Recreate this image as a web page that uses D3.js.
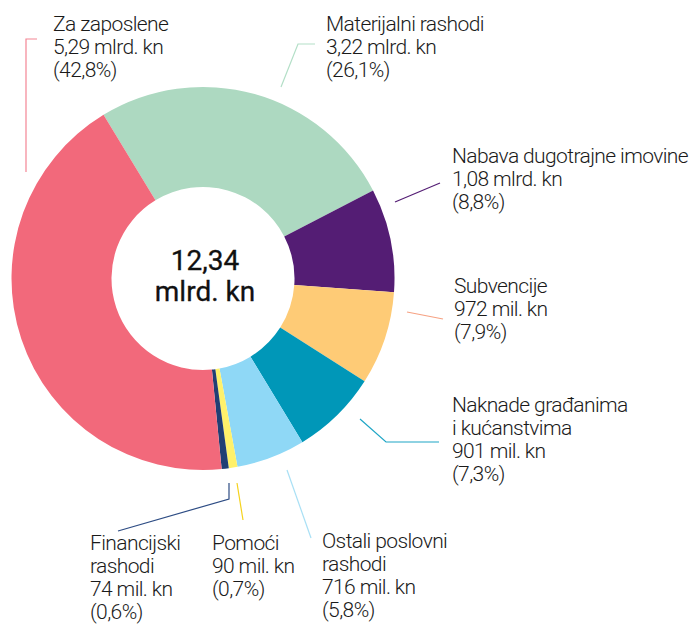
<!DOCTYPE html>
<html>
<head>
<meta charset="utf-8">
<script src="https://cdn.jsdelivr.net/npm/d3@7"></script>
<style>
body{margin:0;background:#fff;}
text{font-family:Roboto,"Noto Sans",sans-serif;}
</style>
</head>
<body>
<div id="main_div"></div>
<script>
// data, clockwise from the top-left edge of "Materijalni rashodi"
let categories=["Materijalni rashodi","Nabava dugotrajne imovine","Subvencije","Naknade građanima i kućanstvima","Ostali poslovni rashodi","Pomoći","Financijski rashodi","Za zaposlene"];
let values=[3220,1080,972,901,716,90,74,5290];
let valueLabels=["3,22 mlrd. kn","1,08 mlrd. kn","972 mil. kn","901 mil. kn","716 mil. kn","90 mil. kn","74 mil. kn","5,29 mlrd. kn"];
let shareLabels=["(26,1%)","(8,8%)","(7,9%)","(7,3%)","(5,8%)","(0,7%)","(0,6%)","(42,8%)"];
let nameLines=[["Materijalni rashodi"],["Nabava dugotrajne imovine"],["Subvencije"],["Naknade građanima","i kućanstvima"],["Ostali poslovni","rashodi"],["Pomoći"],["Financijski","rashodi"],["Za zaposlene"]];
let totalLabel=["12,34","mlrd. kn"];

let colors=["#add9c1","#541d74","#fecb76","#0097b8","#8fd8f6","#fff16a","#213f74","#f2697b"];
let lineColors=["#b3dfc7","#541d74","#f6a283","#1fa6c6","#a8e0f5","#f5d21c","#2d4c84","#f48594"];

// label layout (annotation positions)
let labelPos=[[326,31],[452,163],[454,293],[452,412],[322,548],[212,550],[90,550],[53,31]];
let leaders=[
    [[281,87],[298,44],[315,44]],
    [[395,202],[440,183]],
    [[407,312],[443,319]],
    [[360,419],[386,442],[439,442]],
    [[287,470],[311,538]],
    [[237,483],[243,520]],
    [[229,483],[229,499],[118,531]],
    [[26,172],[26,39],[37,39]]
];

let cx=203,cy=278.5,outerR=191.5,innerR=91.5;
let lineH=23;

let svg=d3.select("#main_div")
    .append("svg")
    .attr("width",694)
    .attr("height",625)
    .attr("id","main_svg");

let start=-31.3*Math.PI/180;
let pie=d3.pie().sort(null).startAngle(start).endAngle(start+2*Math.PI);
let arc=d3.arc().innerRadius(innerR).outerRadius(outerR);

svg.append("g")
    .attr("transform","translate("+cx+","+cy+")")
    .selectAll("path")
    .data(pie(values))
    .enter()
    .append("path")
    .attr("d",arc)
    .attr("fill",function(d,i){return colors[i]});

/**leader lines */
svg.append("g")
    .selectAll("polyline")
    .data(leaders)
    .enter()
    .append("polyline")
    .attr("points",function(d){return d.map(p=>p.join(",")).join(" ")})
    .attr("fill","none")
    .attr("stroke",function(d,i){return lineColors[i]})
    .attr("stroke-width",1.2);

/**labels */
let labels=svg.append("g")
    .selectAll("text")
    .data(categories)
    .enter()
    .append("text")
    .attr("x",function(d,i){return labelPos[i][0]})
    .attr("y",function(d,i){return labelPos[i][1]})
    .attr("fill","#1a1a1a")
    .style("font-size","21px")
    .style("font-weight","300")
    .style("letter-spacing","-0.6px");

labels.each(function(d,i){
    let lines=nameLines[i].concat([valueLabels[i],shareLabels[i]]);
    d3.select(this).selectAll("tspan")
        .data(lines)
        .enter()
        .append("tspan")
        .attr("x",labelPos[i][0])
        .attr("dy",function(t,j){return j==0?0:lineH})
        .text(function(t){return t});
});

/**total in the middle */
svg.append("g")
    .selectAll("text")
    .data(totalLabel)
    .enter()
    .append("text")
    .attr("x",205)
    .attr("y",function(d,i){return 270+i*31})
    .attr("text-anchor","middle")
    .attr("fill","#111")
    .attr("stroke","#111")
    .attr("stroke-width",0.3)
    .style("font-size","28px")
    .style("font-weight","400")
    .text(function(d){return d});
</script>
</body>
</html>
